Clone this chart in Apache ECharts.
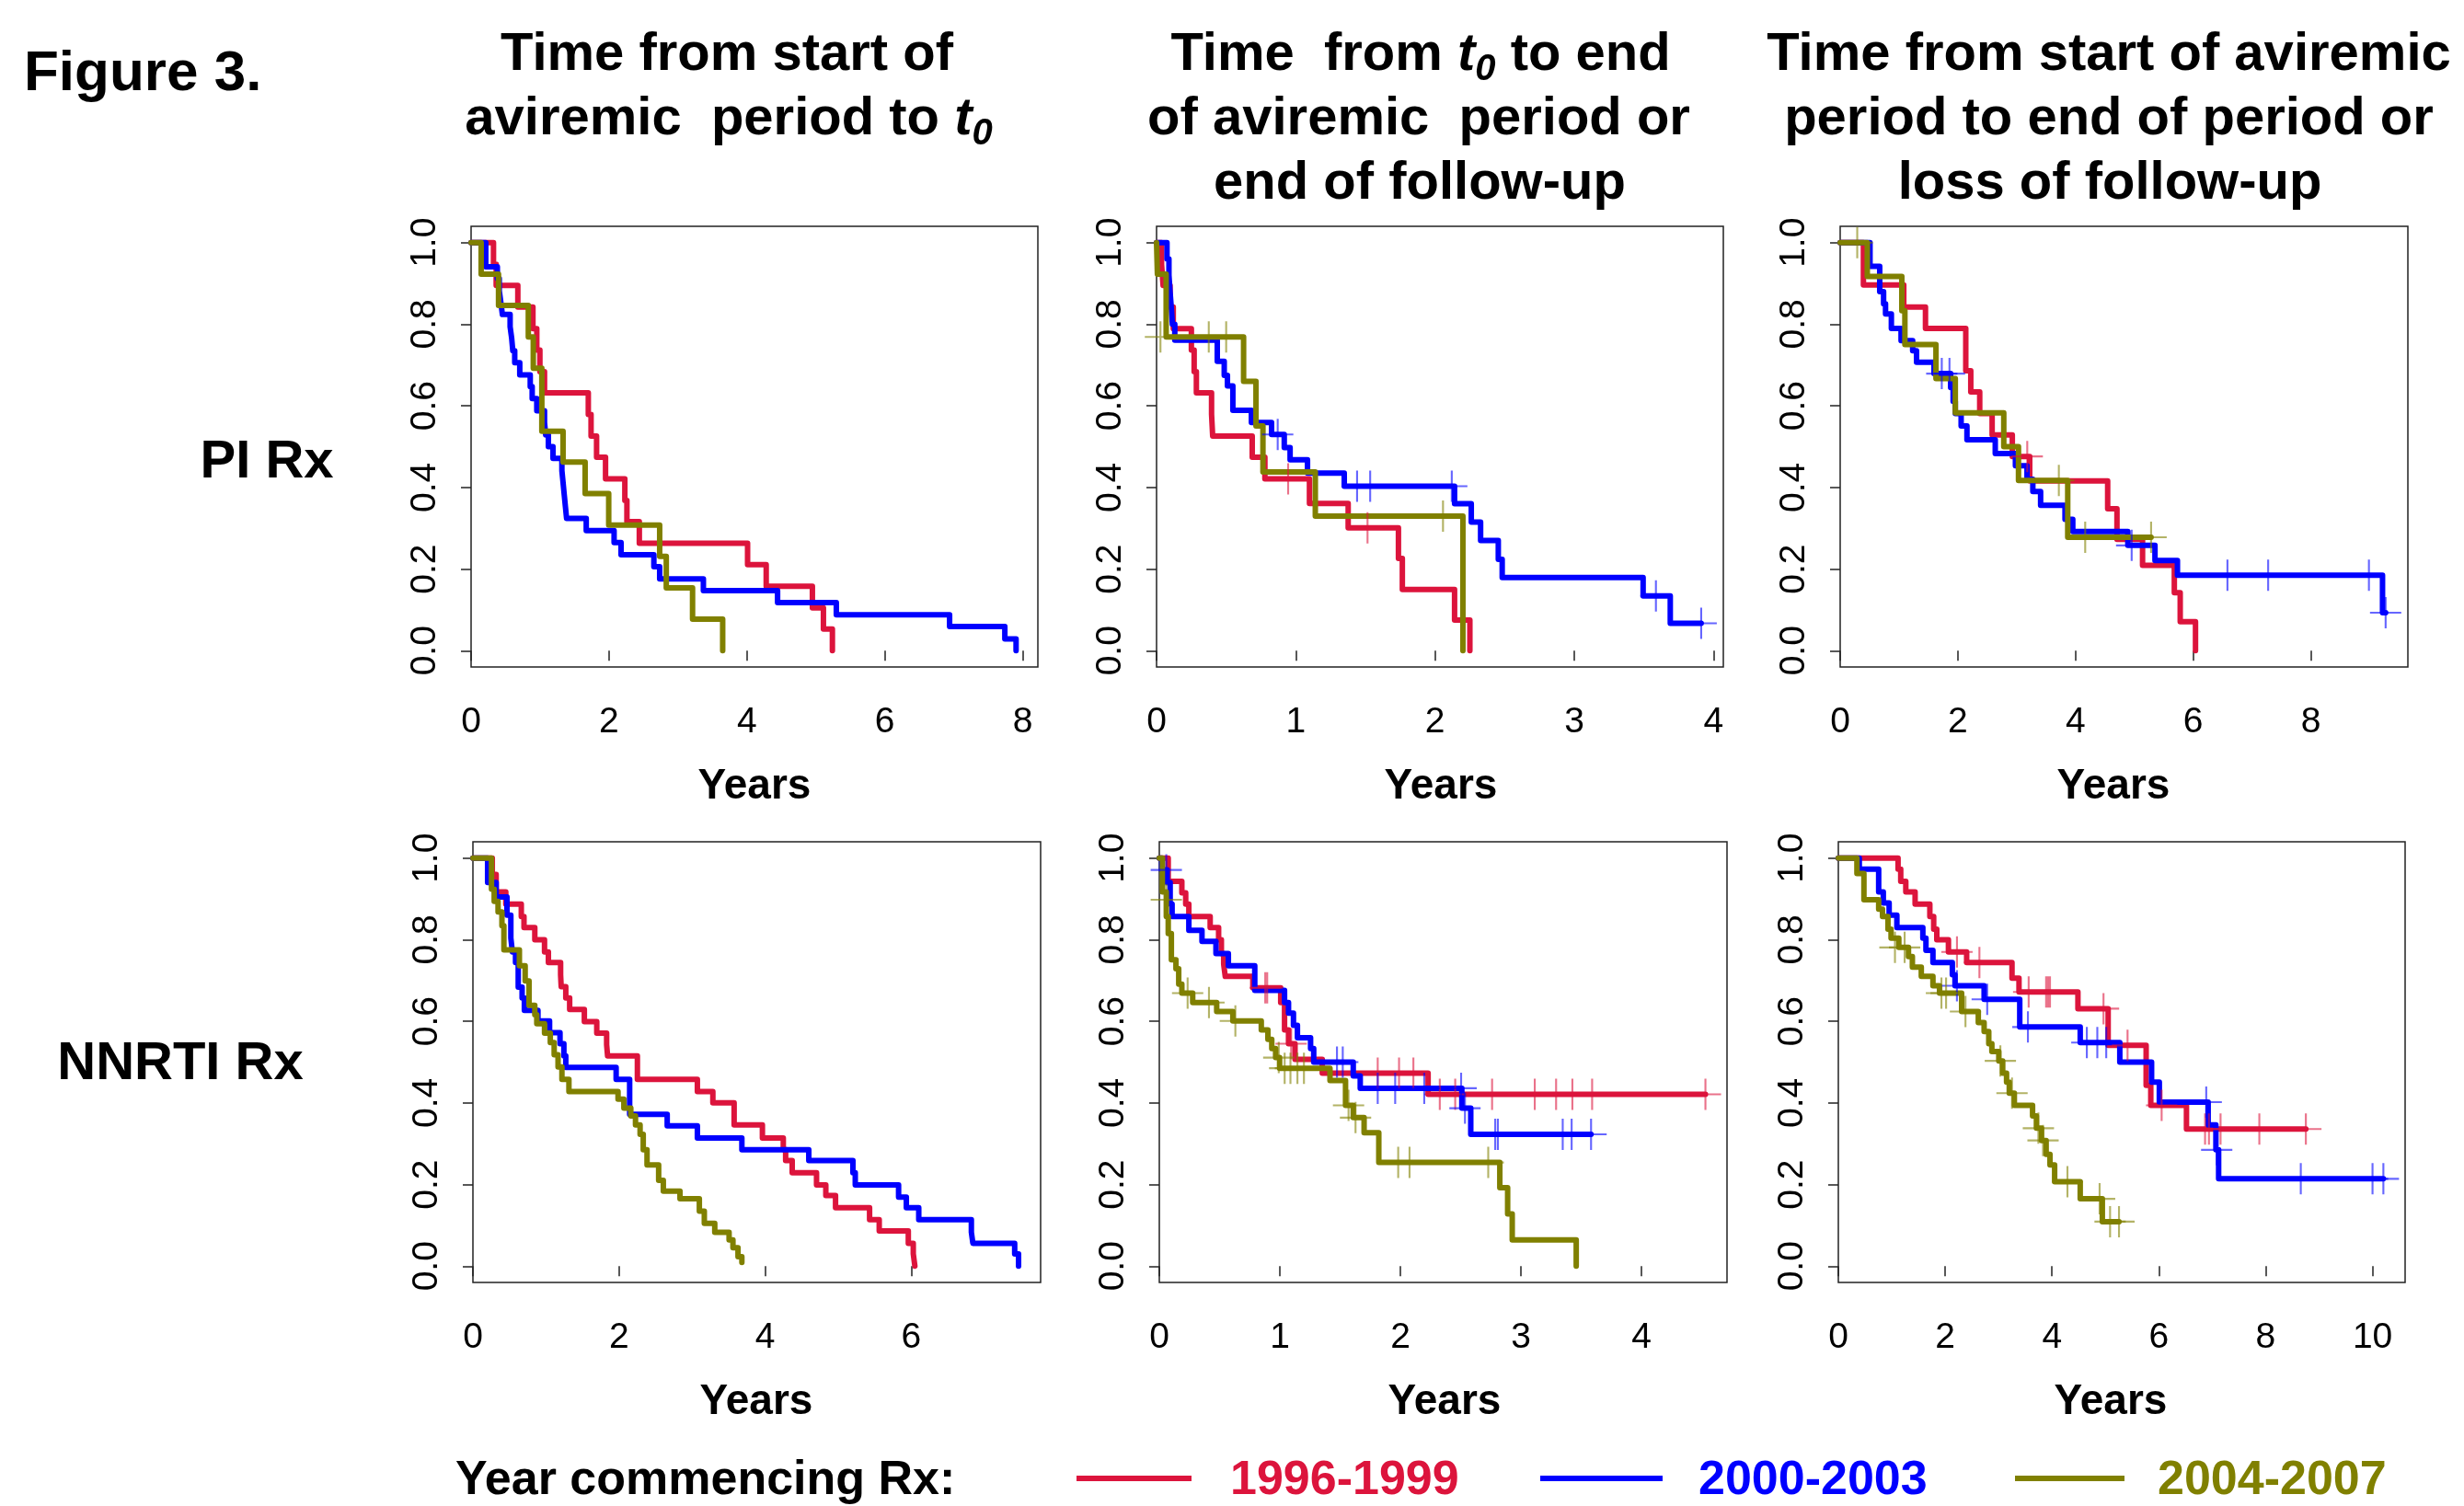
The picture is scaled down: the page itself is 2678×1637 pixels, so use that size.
<!DOCTYPE html>
<html>
<head>
<meta charset="utf-8">
<script src="https://cdn.jsdelivr.net/npm/echarts@6/dist/echarts.min.js"></script>
<style>
html, body { margin: 0; padding: 0; background: #fff; }
#chart { width: 2678px; height: 1637px; }
</style>
</head>
<body>
<div id="chart"></div>
<script>
// Kaplan-Meier curves, [years, survival] at each change point
const groups = ["1996-1999", "2000-2003", "2004-2007"];
const yTicks = [0, 0.2, 0.4, 0.6, 0.8, 1];

// PI Rx, start of aviremic period to t0
const p1Red = [[0,1],[0.325,0.947],[0.364,0.895],[0.678,0.842],[0.897,0.789],[0.953,0.737],[0.998,0.684],[1.065,0.632],[1.70,0.579],[1.74,0.526],[1.82,0.474],[1.95,0.421],[2.23,0.368],[2.26,0.316],[2.44,0.263],[4.01,0.211],[4.28,0.158],[4.95,0.105],[5.11,0.053],[5.24,0]];
const p1Blue = [[0,1],[0.213,0.941],[0.381,0.912],[0.409,0.882],[0.432,0.853],[0.454,0.824],[0.566,0.794],[0.589,0.765],[0.605,0.735],[0.633,0.706],[0.706,0.676],[0.858,0.647],[0.886,0.618],[0.953,0.588],[1.065,0.559],[1.082,0.529],[1.121,0.5],[1.188,0.471],[1.317,0.441],[1.334,0.412],[1.351,0.382],[1.368,0.353],[1.385,0.324],[1.670,0.294],[2.074,0.265],[2.175,0.235],[2.651,0.206],[2.735,0.176],[3.369,0.147],[4.445,0.118],[5.297,0.088],[6.940,0.059],[7.741,0.029],[7.904,0]];
const p1Olive = [[0,1],[0.146,0.923],[0.398,0.846],[0.830,0.769],[0.902,0.692],[1.026,0.538],[1.334,0.462],[1.654,0.385],[1.996,0.308],[2.735,0.231],[2.831,0.154],[3.212,0.077],[3.649,0]];
const p1Ticks = [0, 2, 4, 6, 8];

// PI Rx, t0 to end of period / follow-up
const p2Red = [[0,1],[0.036,0.947],[0.047,0.895],[0.097,0.842],[0.12,0.789],[0.25,0.737],[0.27,0.684],[0.286,0.632],[0.395,0.579],[0.403,0.526],[0.687,0.474],[0.778,0.421],[1.098,0.361],[1.376,0.301],[1.737,0.226],[1.765,0.15],[2.14,0.075],[2.25,0]];
const p2RedCens = [[0.945,0.421],[1.515,0.301]];
const p2Blue = [[0,1],[0.075,0.96],[0.089,0.92],[0.097,0.88],[0.106,0.84],[0.114,0.80],[0.131,0.761],[0.436,0.709],[0.486,0.675],[0.509,0.649],[0.548,0.589],[0.681,0.559],[0.826,0.53],[0.917,0.498],[0.959,0.468],[1.084,0.435],[1.348,0.403],[2.14,0.36],[2.26,0.315],[2.327,0.27],[2.454,0.224],[2.482,0.179],[3.494,0.134],[3.689,0.067],[3.911,0.067]];
const p2BlueCens = [[0.87,0.53],[1.44,0.403],[1.534,0.403],[2.12,0.403],[3.586,0.134],[3.911,0.067]];
const p2Olive = [[0,1],[0.006,0.923],[0.069,0.769],[0.625,0.66],[0.714,0.551],[0.764,0.438],[1.14,0.33],[2.2,0]];
const p2OliveCens = [[0.028,0.769],[0.375,0.769],[0.5,0.769],[2.057,0.33]];
const p2Ticks = [0, 1, 2, 3, 4];

// PI Rx, start of aviremic period to end / loss of follow-up
const p3Red = [[0,1],[0.395,0.896],[1.081,0.842],[1.45,0.79],[2.135,0.686],[2.22,0.634],[2.372,0.581],[2.583,0.529],[2.926,0.476],[3.222,0.416],[4.547,0.348],[4.705,0.273],[5.14,0.209],[5.68,0.142],[5.78,0.071],[6.04,0]];
const p3RedCens = [[3.18,0.476]];
const p3Blue = [[0,1],[0.507,0.942],[0.672,0.88],[0.738,0.85],[0.771,0.825],[0.87,0.79],[1.035,0.76],[1.232,0.735],[1.298,0.707],[1.595,0.679],[1.878,0.645],[1.92,0.611],[1.957,0.581],[2.056,0.551],[2.155,0.517],[2.636,0.483],[2.979,0.453],[3.176,0.42],[3.275,0.39],[3.407,0.356],[3.822,0.322],[3.954,0.292],[4.89,0.258],[5.351,0.221],[5.733,0.185],[9.219,0.093],[9.272,0.093]];
const p3BlueCens = [[1.727,0.679],[1.858,0.679],[4.955,0.258],[6.583,0.185],[7.275,0.185],[8.988,0.185],[9.272,0.093]];
const p3Olive = [[0,1],[0.461,0.917],[1.048,0.833],[1.1,0.75],[1.628,0.667],[1.957,0.583],[2.781,0.5],[3.031,0.417],[3.868,0.278],[5.285,0.278]];
const p3OliveCens = [[0.29,1],[3.717,0.417],[4.165,0.278],[5.285,0.278]];
const p3Ticks = [0, 2, 4, 6, 8];

// NNRTI Rx, start of aviremic period to t0
const p4Red = [[0,1],[0.265,0.96],[0.318,0.917],[0.45,0.887],[0.662,0.857],[0.699,0.83],[0.847,0.8],[0.98,0.77],[1.033,0.744],[1.2,0.714],[1.208,0.685],[1.271,0.657],[1.324,0.629],[1.525,0.599],[1.695,0.571],[1.83,0.543],[1.843,0.515],[2.251,0.458],[3.072,0.428],[3.284,0.4],[3.575,0.346],[3.962,0.314],[4.248,0.286],[4.28,0.259],[4.37,0.229],[4.703,0.199],[4.83,0.173],[4.963,0.143],[5.429,0.114],[5.561,0.086],[5.959,0.056],[6.027,0.03],[6.049,0]];
const p4Blue = [[0,1],[0.201,0.94],[0.318,0.905],[0.466,0.86],[0.519,0.804],[0.54,0.77],[0.583,0.744],[0.62,0.684],[0.673,0.657],[0.704,0.627],[0.89,0.601],[1.049,0.572],[1.192,0.545],[1.245,0.515],[1.271,0.487],[1.96,0.458],[2.145,0.372],[2.659,0.344],[3.072,0.314],[3.681,0.285],[4.597,0.259],[5.201,0.229],[5.233,0.199],[5.826,0.169],[5.932,0.143],[6.102,0.114],[6.822,0.083],[6.843,0.056],[7.415,0.03],[7.468,0]];
const p4Olive = [[0,1],[0.254,0.924],[0.291,0.894],[0.344,0.868],[0.397,0.834],[0.424,0.775],[0.636,0.736],[0.715,0.699],[0.768,0.639],[0.847,0.616],[0.874,0.594],[0.98,0.571],[1.059,0.548],[1.112,0.518],[1.165,0.488],[1.218,0.458],[1.314,0.428],[1.986,0.409],[2.066,0.387],[2.161,0.368],[2.225,0.346],[2.288,0.323],[2.331,0.285],[2.383,0.248],[2.542,0.21],[2.606,0.184],[2.834,0.165],[3.099,0.135],[3.167,0.105],[3.31,0.083],[3.506,0.064],[3.559,0.045],[3.628,0.023],[3.681,0.009]];
const p4Ticks = [0, 2, 4, 6];

// NNRTI Rx, t0 to end of period / follow-up
const p5Red = [[0,1],[0.074,0.943],[0.187,0.915],[0.219,0.887],[0.245,0.857],[0.422,0.83],[0.492,0.8],[0.515,0.766],[0.534,0.74],[0.547,0.71],[0.776,0.682],[1.007,0.646],[1.039,0.579],[1.072,0.545],[1.126,0.507],[1.352,0.473],[2.23,0.421],[4.531,0.421]];
const p5RedCens = [[0.879,0.682],[0.895,0.682],[1.094,0.545],[1.812,0.473],[1.989,0.473],[2.108,0.473],[2.327,0.421],[2.455,0.421],[2.761,0.421],[3.115,0.421],[3.292,0.421],[3.427,0.421],[3.591,0.421],[4.531,0.421]];
const p5Blue = [[0,1],[0.02,0.971],[0.065,0.94],[0.09,0.887],[0.106,0.857],[0.245,0.823],[0.354,0.796],[0.47,0.766],[0.573,0.736],[0.792,0.676],[1.039,0.646],[1.072,0.62],[1.113,0.59],[1.146,0.56],[1.255,0.533],[1.281,0.5],[1.609,0.466],[1.667,0.436],[2.51,0.387],[2.584,0.323],[3.582,0.323]];
const p5BlueCens = [[0.058,0.971],[1.474,0.5],[1.522,0.5],[1.812,0.436],[1.957,0.436],[2.198,0.436],[2.504,0.436],[2.536,0.387],[2.787,0.323],[2.809,0.323],[3.347,0.323],[3.421,0.323],[3.582,0.323]];
const p5Olive = [[0,1],[0.026,0.917],[0.058,0.857],[0.074,0.815],[0.1,0.751],[0.138,0.729],[0.161,0.691],[0.187,0.669],[0.277,0.646],[0.476,0.624],[0.61,0.601],[0.846,0.579],[0.901,0.556],[0.933,0.533],[0.965,0.511],[0.998,0.485],[1.416,0.455],[1.545,0.394],[1.609,0.364],[1.699,0.327],[1.821,0.254],[2.825,0.192],[2.89,0.128],[2.928,0.064],[3.459,0]];
const p5OliveCens = [[0.058,0.898],[0.235,0.669],[0.412,0.646],[0.631,0.601],[0.991,0.511],[1.04,0.485],[1.088,0.485],[1.146,0.485],[1.2,0.485],[1.57,0.394],[1.628,0.364],[1.982,0.254],[2.076,0.254],[2.729,0.254]];
const p5Ticks = [0, 1, 2, 3, 4];

// NNRTI Rx, start of aviremic period to end / loss of follow-up
const p6Red = [[0,1],[1.118,0.973],[1.168,0.943],[1.263,0.917],[1.437,0.887],[1.713,0.857],[1.785,0.826],[1.843,0.8],[2.061,0.77],[2.402,0.744],[3.251,0.706],[3.382,0.672],[4.485,0.631],[5.051,0.541],[5.762,0.443],[5.849,0.394],[6.517,0.336],[8.752,0.336]];
const p6RedCens = [[2.221,0.77],[2.641,0.744],[3.563,0.672],[3.89,0.672],[3.926,0.672],[3.962,0.672],[4.964,0.631],[5.414,0.541],[6.052,0.394],[6.865,0.336],[6.938,0.336],[7.155,0.336],[7.881,0.336],[8.752,0.336]];
const p6Blue = [[0,1],[0.392,0.973],[0.755,0.917],[0.842,0.89],[0.951,0.86],[1.096,0.83],[1.582,0.804],[1.64,0.774],[1.771,0.744],[2.134,0.714],[2.184,0.687],[2.729,0.654],[3.396,0.586],[4.528,0.548],[5.269,0.5],[5.864,0.451],[6.009,0.402],[6.923,0.346],[7.068,0.285],[7.119,0.214],[10.203,0.214]];
const p6BlueCens = [[2.22,0.687],[2.787,0.654],[3.549,0.586],[4.652,0.548],[4.848,0.548],[5.015,0.548],[6.887,0.402],[7.083,0.285],[8.657,0.214],[10.0,0.214],[10.203,0.214]];
const p6Olive = [[0,1],[0.348,0.962],[0.479,0.898],[0.755,0.875],[0.827,0.857],[0.929,0.826],[0.987,0.804],[1.132,0.781],[1.313,0.759],[1.386,0.733],[1.553,0.71],[1.771,0.687],[1.894,0.669],[2.308,0.624],[2.62,0.597],[2.729,0.575],[2.816,0.545],[2.874,0.526],[3.004,0.503],[3.077,0.473],[3.149,0.451],[3.2,0.424],[3.295,0.394],[3.636,0.368],[3.708,0.338],[3.803,0.308],[3.89,0.274],[3.962,0.248],[4.049,0.207],[4.528,0.165],[4.942,0.109],[5.254,0.109]];
const p6OliveCens = [[1.06,0.781],[1.241,0.781],[1.93,0.669],[2.017,0.669],[2.38,0.624],[3.033,0.503],[3.251,0.424],[3.745,0.338],[3.832,0.308],[4.289,0.207],[4.891,0.165],[5.087,0.109],[5.254,0.109]];
const p6Ticks = [0, 2, 4, 6, 8, 10];

const RED = "#DC143C", BLUE = "#0000FF", OLIVE = "#808000";
const colors = [RED, BLUE, OLIVE];
const FONT = "'Liberation Sans', Arial, Helvetica, sans-serif";
const PLUS = "path://M15,0h2v32h-2z M0,15h32v2h-32z";

const panels = [
    { curves: [p1Red, p1Blue, p1Olive], cens: [[], [], []], ticks: p1Ticks, xmax: 8.22,
      grid: { left: 512, top: 246, width: 616, height: 479 } },
    { curves: [p2Red, p2Blue, p2Olive], cens: [p2RedCens, p2BlueCens, p2OliveCens], ticks: p2Ticks, xmax: 4.07,
      grid: { left: 1257, top: 246, width: 616, height: 479 } },
    { curves: [p3Red, p3Blue, p3Olive], cens: [p3RedCens, p3BlueCens, p3OliveCens], ticks: p3Ticks, xmax: 9.65,
      grid: { left: 2000, top: 246, width: 617, height: 479 } },
    { curves: [p4Red, p4Blue, p4Olive], cens: [[], [], []], ticks: p4Ticks, xmax: 7.77,
      grid: { left: 514, top: 915, width: 617, height: 479 } },
    { curves: [p5Red, p5Blue, p5Olive], cens: [p5RedCens, p5BlueCens, p5OliveCens], ticks: p5Ticks, xmax: 4.71,
      grid: { left: 1260, top: 915, width: 617, height: 479 } },
    { curves: [p6Red, p6Blue, p6Olive], cens: [p6RedCens, p6BlueCens, p6OliveCens], ticks: p6Ticks, xmax: 10.61,
      grid: { left: 1998, top: 915, width: 616, height: 479 } }
];

const grids = [], xAxes = [], yAxes = [], series = [];
panels.forEach((p, i) => {
    grids.push(Object.assign({ show: true, borderColor: "#222", borderWidth: 1.5, backgroundColor: "transparent" }, p.grid));
    xAxes.push({
        gridIndex: i, type: "value", min: 0, max: p.xmax,
        axisLine: { show: false }, splitLine: { show: false },
        axisTick: { show: true, length: 11, customValues: p.ticks, lineStyle: { color: "#222", width: 1.5 } },
        axisLabel: { customValues: p.ticks, fontSize: 39, fontFamily: FONT, color: "#000", margin: 41,
            formatter: v => String(v) }
    });
    yAxes.push({
        gridIndex: i, type: "value", min: -0.04, max: 1.04,
        axisLine: { show: false }, splitLine: { show: false },
        axisTick: { show: true, length: 11, customValues: yTicks, lineStyle: { color: "#222", width: 1.5 } },
        axisLabel: { customValues: yTicks, rotate: 90, fontSize: 39, fontFamily: FONT, color: "#000", margin: 30,
            formatter: v => v.toFixed(1) }
    });
    p.curves.forEach((c, j) => {
        series.push({
            name: groups[j], type: "line", xAxisIndex: i, yAxisIndex: i,
            data: c, step: "end", showSymbol: false, silent: true, z: 3 + j,
            lineStyle: { color: colors[j], width: 6, cap: "round", join: "round" }
        });
        if (p.cens[j].length) {
            series.push({
                type: "scatter", xAxisIndex: i, yAxisIndex: i, data: p.cens[j],
                symbol: PLUS, symbolSize: 34, silent: true, z: 6,
                itemStyle: { color: colors[j], opacity: 0.6 }
            });
        }
    });
});

// text helpers
const mctx = document.createElement("canvas").getContext("2d");
function fontStr(size, italic) {
    return (italic ? "italic " : "") + "bold " + size + "px " + FONT;
}
function textW(str, size, italic) {
    mctx.font = fontStr(size, italic);
    return mctx.measureText(str).width;
}
function label(text, x, y, size, color, align) {
    return {
        type: "text", x: x, y: y, silent: true,
        style: { text: text, font: fontStr(size, false), fill: color || "#000",
            align: align || "center", textAlign: align || "center",
            verticalAlign: "middle", textVerticalAlign: "middle" }
    };
}
// a centred line built from plain, italic and subscript pieces
function titleLine(cx, cy, parts, out) {
    const sz = p => (p.sub ? 40 : 58);
    const total = parts.reduce((s, p) => s + textW(p.text, sz(p), p.it), 0);
    let x = cx - total / 2;
    parts.forEach(p => {
        out.push({
            type: "text", x: x, y: cy + (p.sub ? 16 : 0), silent: true,
            style: { text: p.text, font: fontStr(sz(p), p.it), fill: "#000",
                align: "left", textAlign: "left", verticalAlign: "middle", textVerticalAlign: "middle" }
        });
        x += textW(p.text, sz(p), p.it);
    });
}

const g = [];
g.push(label("Figure 3.", 26, 81, 62, "#000", "left"));
titleLine(790, 60, [{ text: "Time from start of" }], g);
titleLine(792, 130, [{ text: "aviremic  period to " }, { text: "t", it: true }, { text: "0", it: true, sub: true }], g);
titleLine(1544, 60, [{ text: "Time  from " }, { text: "t", it: true }, { text: "0", it: true, sub: true }, { text: " to end" }], g);
titleLine(1542, 130, [{ text: "of aviremic  period or" }], g);
titleLine(1543, 200, [{ text: "end of follow-up" }], g);
titleLine(2292, 60, [{ text: "Time from start of aviremic" }], g);
titleLine(2292, 130, [{ text: "period to end of period or" }], g);
titleLine(2293, 200, [{ text: "loss of follow-up" }], g);

g.push(label("PI Rx", 290, 503, 58));
g.push(label("NNRTI Rx", 196, 1157, 58));

[[820, 855], [1566, 855], [2297, 855], [822, 1524], [1570, 1524], [2294, 1524]].forEach(pt => {
    g.push(label("Years", pt[0], pt[1], 46));
});

// legend row
g.push(label("Year commencing Rx:", 495, 1610, 52, "#000", "left"));
const legendPos = [[1170, 1295, 1337], [1674, 1807, 1846], [2190, 2309, 2345]];
legendPos.forEach((lp, j) => {
    g.push({ type: "line", silent: true, shape: { x1: lp[0], y1: 1607, x2: lp[1], y2: 1607 },
        style: { stroke: colors[j], lineWidth: 6 } });
    g.push(label(groups[j], lp[2], 1610, 52, colors[j], "left"));
});

const chart = echarts.init(document.getElementById("chart"), null, { renderer: "canvas" });
chart.setOption({
    animation: false,
    backgroundColor: "#fff",
    grid: grids,
    xAxis: xAxes,
    yAxis: yAxes,
    series: series,
    graphic: { elements: g }
});
</script>
</body>
</html>
